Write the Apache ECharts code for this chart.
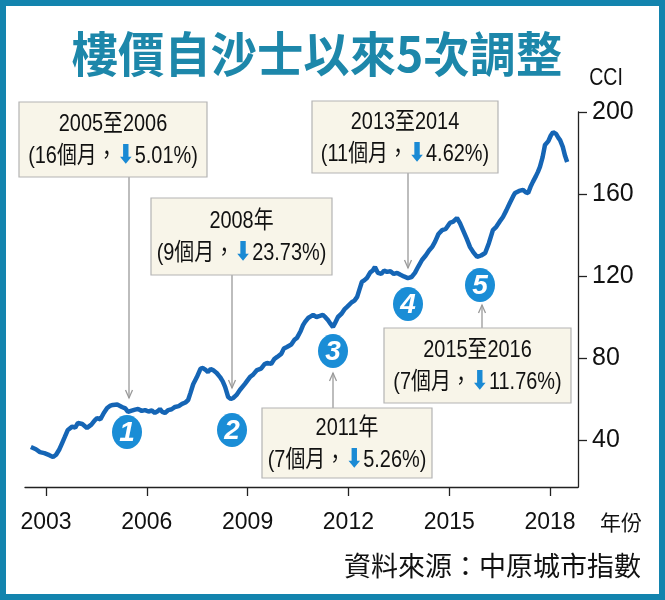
<!DOCTYPE html>
<html lang="zh-Hant">
<head>
    <meta charset="UTF-8">
    <title>樓價自沙士以來5次調整</title>
    <script src="https://cdn.jsdelivr.net/npm/echarts@6/dist/echarts.min.js"></script>
    <style>
        html, body { margin: 0; padding: 0; background: #fff; }
        #main { width: 665px; height: 600px; }
    </style>
</head>
<body>
<div id="main"></div>
<script>
    // 中原城市指數 CCI (讀圖估算)
    var cciDates = [
        2002.55, 2002.70, 2002.82, 2002.95, 2003.10, 2003.21, 2003.30, 2003.40, 2003.48, 2003.56,
        2003.65, 2003.78, 2003.87, 2003.95, 2004.08, 2004.22, 2004.35, 2004.45, 2004.52, 2004.62,
        2004.72, 2004.82, 2004.90, 2004.99, 2005.12, 2005.26, 2005.36, 2005.44, 2005.55, 2005.65,
        2005.74, 2005.85, 2005.95, 2006.05, 2006.15, 2006.24, 2006.32, 2006.39, 2006.46, 2006.54,
        2006.64, 2006.74, 2006.84, 2006.95, 2007.05, 2007.15, 2007.23, 2007.30, 2007.38, 2007.49,
        2007.60, 2007.67, 2007.75, 2007.82, 2007.90, 2007.97, 2008.08, 2008.18, 2008.26, 2008.33,
        2008.38, 2008.42, 2008.50, 2008.57, 2008.67, 2008.77, 2008.92, 2009.07, 2009.17, 2009.28,
        2009.40, 2009.50, 2009.58, 2009.70, 2009.80, 2009.88, 2010.00, 2010.08, 2010.17, 2010.30,
        2010.40, 2010.47, 2010.58, 2010.65, 2010.71, 2010.80, 2010.88, 2010.95, 2011.05, 2011.15,
        2011.24, 2011.32, 2011.39, 2011.47, 2011.54, 2011.60, 2011.69, 2011.80, 2011.88, 2011.96,
        2012.10, 2012.18, 2012.26, 2012.33, 2012.40, 2012.48, 2012.55, 2012.65, 2012.72, 2012.79,
        2012.88, 2012.98, 2013.06, 2013.15, 2013.25, 2013.35, 2013.45, 2013.55, 2013.65, 2013.77,
        2013.88, 2013.98, 2014.08, 2014.19, 2014.30, 2014.40, 2014.49, 2014.58, 2014.68, 2014.79,
        2014.90, 2015.02, 2015.12, 2015.23, 2015.32, 2015.41, 2015.52, 2015.62, 2015.72, 2015.83,
        2015.95, 2016.07, 2016.18, 2016.30, 2016.40, 2016.50, 2016.60, 2016.70, 2016.80, 2016.90,
        2016.96, 2017.08, 2017.20, 2017.28, 2017.35, 2017.42, 2017.49, 2017.58, 2017.64, 2017.70,
        2017.78, 2017.85, 2017.95, 2018.02, 2018.09, 2018.18, 2018.25, 2018.30, 2018.38, 2018.45,
        2018.51
    ];
    var cciValues = [
        36.6, 35.5, 34.1, 33.6, 32.6, 31.7, 32.8, 35.5, 38.5, 41.5,
        44.9, 46.5, 46.0, 48.3, 47.8, 45.9, 47.5, 49.6, 50.7, 50.1,
        53.2, 55.6, 56.6, 57.1, 57.3, 56.1, 55.4, 53.7, 54.3, 54.8,
        55.1, 54.2, 54.6, 53.9, 54.4, 53.2, 54.0, 55.1, 53.7, 53.2,
        54.6, 55.0, 56.1, 56.5, 57.6, 58.3, 59.5, 63.0, 67.2, 70.7,
        74.8, 75.1, 74.2, 73.2, 74.6, 74.1, 72.7, 70.7, 68.6, 65.9,
        63.2, 61.0, 60.0, 60.5, 62.0, 64.4, 67.4, 70.7, 72.0, 74.1,
        74.8, 76.9, 77.6, 77.1, 79.6, 80.5, 82.0, 84.6, 85.4, 86.6,
        89.0, 89.8, 93.2, 96.0, 97.6, 99.5, 100.3, 101.0, 100.0, 100.5,
        101.0, 99.8, 98.5, 96.6, 95.1, 97.0, 100.0, 101.7, 103.7, 104.9,
        107.2, 108.0, 109.8, 113.5, 117.1, 118.0, 119.0, 121.8, 122.6, 124.4,
        121.5, 121.0, 122.6, 122.0, 122.3, 121.0, 121.5, 120.6, 119.8, 119.0,
        119.5, 121.5, 124.6, 127.8, 130.0, 132.4, 134.1, 136.8, 140.5, 142.4,
        143.0, 145.9, 146.5, 148.3, 145.8, 142.4, 138.2, 134.1, 131.5, 129.3,
        130.0, 131.2, 136.0, 142.4, 144.0, 146.5, 148.8, 152.0, 155.5, 158.8,
        160.5, 161.5, 162.0, 160.8, 160.5, 163.5, 165.9, 168.7, 170.8, 173.2,
        178.0, 183.9, 185.8, 188.4, 190.2, 189.3, 187.4, 186.3, 183.0, 178.5,
        175.6
    ];
    var yearTicks = [2003, 2006, 2009, 2012, 2015, 2018];
    var cciTicks = [40, 80, 120, 160, 200];

    // 五次調整
    var periods = ['2005至2006', '2008年', '2011年', '2013至2014', '2015至2016'];
    var months = ['16個月', '9個月', '7個月', '11個月', '7個月'];
    var drops = ['5.01%', '23.73%', '5.26%', '4.62%', '11.76%'];

    var SANS = "'Liberation Sans', 'Noto Sans CJK TC', sans-serif";
    var CJK = "'Noto Sans CJK TC', sans-serif";

    // 註解框的版面 (像素)
    var boxes = [
        { x: 19, y: 102, w: 188, h: 75, ax: 129, from: 177, to: 398 },
        { x: 151, y: 198, w: 181, h: 77, ax: 232, from: 275, to: 388 },
        { x: 262, y: 408, w: 170, h: 70, ax: 333, from: 408, to: 373 },
        { x: 312, y: 101, w: 186, h: 72, ax: 408, from: 173, to: 268 },
        { x: 384, y: 328, w: 187, h: 75, ax: 482, from: 328, to: 305 }
    ];
    var circles = [[127, 432], [232, 430], [333, 351], [408, 304], [480, 285]];

    var graphics = [];

    // 外框
    graphics.push({
        type: 'rect', shape: { x: 3, y: 3, width: 659, height: 594 },
        style: { fill: 'none', stroke: '#1384ae', lineWidth: 6 }, z: 100
    });
    // 標題
    graphics.push({
        type: 'text', x: 317, y: 54, scaleX: 0.965,
        style: { text: '樓價自沙士以來5次調整', font: 'bold 48px ' + CJK, fill: '#1d87aa', align: 'center', verticalAlign: 'middle' }
    });
    graphics.push({
        type: 'text', x: 606, y: 79, scaleX: 0.85,
        style: { text: 'CCI', font: '23px ' + SANS, fill: '#111', align: 'center', verticalAlign: 'middle' }
    });
    graphics.push({
        type: 'text', x: 621, y: 522,
        style: { text: '年份', font: '21px ' + CJK, fill: '#111', align: 'center', verticalAlign: 'middle' }
    });
    graphics.push({
        type: 'text', x: 641, y: 566,
        style: { text: '資料來源：中原城市指數', font: '27px ' + CJK, fill: '#111', align: 'right', verticalAlign: 'middle' }
    });

    boxes.forEach(function (b, i) {
        var up = b.to < b.from;
        graphics.push({
            type: 'line', shape: { x1: b.ax, y1: b.from, x2: b.ax, y2: b.to },
            style: { stroke: '#9a9a9a', lineWidth: 1.3 }, z: 10
        });
        var d = up ? 8 : -8;
        graphics.push({
            type: 'polyline', shape: { points: [[b.ax - 3.5, b.to + d], [b.ax, b.to], [b.ax + 3.5, b.to + d]] },
            style: { stroke: '#9a9a9a', fill: 'none', lineWidth: 1.3 }, z: 10
        });
        graphics.push({
            type: 'rect', shape: { x: b.x, y: b.y, width: b.w, height: b.h },
            style: { fill: '#f8f5e9', stroke: '#b4b4b4', lineWidth: 1.2 }, z: 20
        });
        graphics.push({
            type: 'text', x: b.x + b.w / 2, y: b.y + b.h / 2 + 1, scaleX: 0.83, z: 21,
            style: {
                text: '{t|' + periods[i] + '}\n{t|(' + months[i] + '，}{a|⬇}{t|' + drops[i] + ')}',
                align: 'center', verticalAlign: 'middle',
                rich: {
                    t: { font: '24px ' + SANS, fill: '#111', lineHeight: 32 },
                    a: { font: 'bold 26px DejaVu Sans', fill: '#1a8ad4', lineHeight: 32 }
                }
            }
        });
    });

    circles.forEach(function (c, i) {
        graphics.push({
            type: 'ellipse', shape: { cx: c[0], cy: c[1], rx: 15, ry: 17 },
            style: { fill: '#1a8dd6' }, z: 30
        });
        graphics.push({
            type: 'text', x: c[0], y: c[1] + 1, z: 31,
            style: { text: String(i + 1), font: 'italic bold 28px Liberation Sans, Arial, sans-serif', fill: '#fff', align: 'center', verticalAlign: 'middle' }
        });
    });

    var lineData = cciDates.map(function (d, i) { return [d, cciValues[i]]; });

    var myChart = echarts.init(document.getElementById('main'));
    var option = {
        animation: false,
        backgroundColor: '#fff',
        grid: { left: 25, right: 87, top: 112, bottom: 113 },
        xAxis: {
            type: 'value',
            min: 2002.375,
            max: 2018.833,
            splitLine: { show: false },
            axisLine: { show: true, lineStyle: { color: '#222', width: 1.3 } },
            axisTick: { show: true, length: 9, customValues: yearTicks, lineStyle: { color: '#222', width: 1.3 } },
            axisLabel: {
                customValues: yearTicks, margin: 24,
                fontSize: 23, fontFamily: 'Liberation Sans', color: '#111',
                formatter: function (v) { return String(v); }
            }
        },
        yAxis: {
            type: 'value',
            position: 'right',
            min: 17.07,
            max: 200,
            splitLine: { show: false },
            axisLine: { show: true, lineStyle: { color: '#222', width: 1.3 } },
            axisTick: { show: true, length: 9, customValues: cciTicks, lineStyle: { color: '#222', width: 1.3 } },
            axisLabel: {
                customValues: cciTicks, margin: 14,
                fontSize: 25, fontFamily: 'Liberation Sans', color: '#111'
            }
        },
        series: [
            {
                type: 'line',
                data: lineData,
                showSymbol: false,
                lineStyle: { color: '#1565b5', width: 4.5 },
                z: 5
            }
        ],
        graphic: graphics
    };
    myChart.setOption(option);
</script>
</body>
</html>
